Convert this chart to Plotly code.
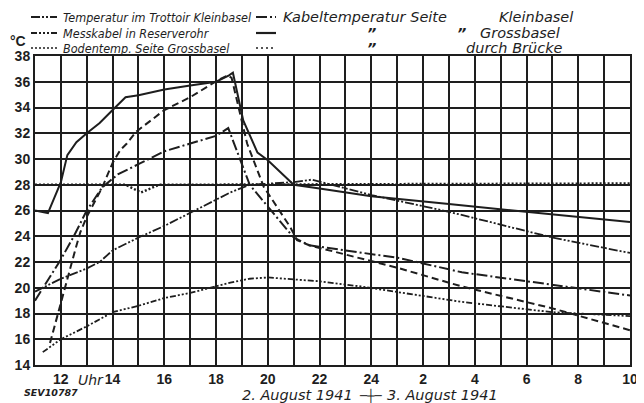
import plotly.graph_objects as go

# ---------------- data (hours: 11 = 11 Uhr on 2 Aug, 34 = 10 Uhr on 3 Aug) -------------
hour_ticks = list(range(11, 35))
hour_labels = ["", "12", "", "14", "", "16", "", "18", "", "20", "", "22", "", "24",
               "", "2", "", "4", "", "6", "", "8", "", "10"]
temp_ticks = list(range(14, 39, 2))

# Kabeltemperatur Seite Grossbasel (solid)
gross_x = [11, 11.5, 11.75, 12.0, 12.25, 12.6, 13.0, 13.5, 14.0, 14.5, 15.0, 16.0, 17.0,
           18.0, 18.5, 18.65, 19.05, 19.6, 20.0, 21.0, 22.0, 24.0, 27.0, 30.0, 34.0]
gross_y = [26.0, 25.8, 27.0, 28.2, 30.3, 31.3, 32.0, 32.8, 33.8, 34.8, 34.95, 35.4, 35.7,
           36.0, 36.5, 36.7, 33.0, 30.5, 29.9, 28.0, 27.7, 27.1, 26.5, 25.9, 25.1]

# Kabeltemperatur durch Brücke (dashed)
bruecke_x = [11.58, 12.0, 12.55, 12.75, 13.0, 13.6, 14.0, 14.3, 14.55, 14.9, 16.0, 17.0,
             18.05, 18.45, 18.6, 19.2, 19.84, 20.87, 21.13, 21.6, 23.6, 25.1, 27.5, 31.0, 34.0]
bruecke_y = [15.7, 18.9, 22.9, 24.3, 25.5, 27.8, 29.7, 30.7, 31.2, 32.1, 33.8, 34.8,
             36.1, 36.5, 36.3, 31.2, 27.85, 24.7, 23.7, 23.3, 22.3, 21.5, 20.1, 18.4, 16.7]

# Kabeltemperatur Seite Kleinbasel (dash-dot)
klein_x = [11.0, 12.0, 12.5, 13.0, 13.6, 14.2, 15.0, 16.0, 17.0, 18.0, 18.47, 19.3,
           20.0, 21.0, 21.6, 23.6, 25.1, 27.5, 34.0]
klein_y = [19.0, 22.2, 24.0, 26.0, 27.8, 28.8, 29.6, 30.6, 31.2, 31.8, 32.4, 28.0,
           26.3, 23.9, 23.3, 22.7, 22.3, 21.2, 19.4]

# Temperatur im Trottoir Kleinbasel
trottoir_x = [11.0, 12.0, 13.0, 13.5, 14.0, 15.0, 16.0, 17.0, 18.0, 18.55, 19.3, 20.0,
              21.0, 21.7, 23.0, 24.0, 27.0, 31.0, 34.0]
trottoir_y = [19.7, 20.7, 21.5, 22.0, 22.9, 23.9, 24.8, 25.8, 26.8, 27.4, 28.0, 28.1,
              28.2, 28.4, 27.7, 27.2, 25.9, 23.9, 22.7]

# Messkabel in Reserverohr
mess_x = [11.3, 12.0, 13.0, 14.0, 15.0, 16.0, 17.0, 18.0, 18.55, 19.3, 20.0, 22.0,
          23.6, 27.5, 31.0, 34.0]
mess_y = [15.0, 16.0, 17.0, 18.1, 18.6, 19.2, 19.6, 20.1, 20.4, 20.7, 20.8, 20.5,
          20.1, 18.9, 18.1, 17.8]

# Bodentemp. Seite Grossbasel (dotted)
boden_x = [11.0, 14.5, 15.1, 15.8, 34.0]
boden_y = [28.0, 28.0, 27.4, 28.0, 28.1]

INK = "#1e1e1e"
FONT_N = "DejaVu Sans Condensed, Liberation Sans Narrow, DejaVu Sans, sans-serif"
FONT_W = "DejaVu Sans, sans-serif"
FONT_NUM = "Liberation Sans, Arial, sans-serif"

DASH_TROTT = "9px,2px,2px,2px,2px,2px"
DASH_MESS = "6px,2px,2px,2px,2px,2px,2px,2px"
DASH_BODEN = "2px,2px"
DASH_KLEIN = "11px,3px,2px,3px"
DASH_BRUECKE = "7px,4px"

series = [
    (trottoir_x, trottoir_y, DASH_TROTT, 1.8),
    (mess_x, mess_y, DASH_MESS, 1.8),
    (boden_x, boden_y, DASH_BODEN, 2.4),
    (klein_x, klein_y, DASH_KLEIN, 2.0),
    (gross_x, gross_y, "solid", 2.0),
    (bruecke_x, bruecke_y, DASH_BRUECKE, 2.0),
]

fig = go.Figure()
for xs, ys, dash, w in series:
    fig.add_trace(go.Scatter(x=xs, y=ys, mode="lines",
                             line=dict(color=INK, width=w, dash=dash),
                             showlegend=False, hoverinfo="skip"))

# page has an 8px body margin; work in screenshot pixel coordinates
OFF = 8
SCR_W, SCR_H = 644, 403
X0, X1, Y0, Y1 = 35, 630, 56, 365          # plot area on screen
FIG_W, FIG_H = SCR_W - OFF, SCR_H - OFF
ML, MT = X0 - OFF, Y0 - OFF
MR = FIG_W - (X1 - OFF)
MB = FIG_H - (Y1 - OFF)


def px(x):
    return (x - X0) / (X1 - X0)


def py(y):
    return (Y1 - y) / (Y1 - Y0)


annotations = []
shapes = []


def text(x, y, s, size=13, anchor="left", italic=True, font=FONT_N, bold=False):
    t = s
    if bold:
        t = "<b>" + t + "</b>"
    if italic:
        t = "<i>" + t + "</i>"
    annotations.append(dict(x=px(x), y=py(y), xref="paper", yref="paper", text=t,
                            showarrow=False, xanchor=anchor, yanchor="middle",
                            font=dict(family=font, size=size, color=INK)))


def sample(x0, x1, y, dash, w=1.8):
    shapes.append(dict(type="line", xref="paper", yref="paper",
                       x0=px(x0), x1=px(x1), y0=py(y), y1=py(y),
                       line=dict(color=INK, width=w, dash=dash)))


# legend
LS = 12.5
sample(31, 57, 17, DASH_TROTT)
text(61, 17, "Temperatur im Trottoir Kleinbasel", size=LS)
sample(31, 57, 33, DASH_MESS)
text(61, 33, "Messkabel in Reserverohr", size=LS)
sample(31, 57, 48, DASH_BODEN, 1.6)
text(61, 48, "Bodentemp. Seite Grossbasel", size=LS)

RS = 14.5
sample(256, 276, 17, DASH_KLEIN)
text(281, 17, "Kabeltemperatur Seite", size=RS, font=FONT_W)
text(497, 17, "Kleinbasel", size=RS, font=FONT_W)
sample(256, 276, 33, "solid", 2.2)
text(371, 33, "\u201d", anchor="center", size=RS, font=FONT_W, bold=True)
text(461, 33, "\u201d", anchor="center", size=RS, font=FONT_W, bold=True)
text(478, 33, "Grossbasel", size=RS, font=FONT_W)
sample(256, 276, 48, "2px,3px", 1.6)
text(371, 48, "\u201d", anchor="center", size=RS, font=FONT_W, bold=True)
text(464, 48, "durch Brücke", size=RS, font=FONT_W)

# axis unit and extra labels
text(18, 41, "°C", size=14, anchor="center", italic=False, bold=True, font=FONT_NUM)
text(91, 380, "Uhr", size=14, anchor="center", font=FONT_W)
text(22, 392, "SEV10787", size=9.5, anchor="left", font=FONT_W, bold=True)
text(355, 395, "2. August 1941", size=14.5, anchor="right", font=FONT_W)
text(370, 395, "─┼─", size=12, anchor="center", italic=False, font=FONT_W)
text(385, 395, "3. August 1941", size=14.5, anchor="left", font=FONT_W)

fig.update_layout(
    width=FIG_W, height=FIG_H,
    margin=dict(l=ML, r=MR, t=MT, b=MB, autoexpand=False),
    paper_bgcolor="white", plot_bgcolor="white",
    annotations=annotations, shapes=shapes,
    xaxis=dict(range=[11, 34], tickmode="array", tickvals=hour_ticks, ticktext=hour_labels,
               showgrid=True, gridcolor=INK, gridwidth=1.5, zeroline=False,
               showline=True, linecolor=INK, linewidth=2, mirror=True, ticks="",
               automargin=False,
               tickfont=dict(family=FONT_NUM, size=14, color=INK, weight="bold")),
    yaxis=dict(range=[14, 38], tickmode="array", tickvals=temp_ticks,
               showgrid=True, gridcolor=INK, gridwidth=1.5, zeroline=False,
               showline=True, linecolor=INK, linewidth=2, mirror=True, ticks="",
               automargin=False,
               tickfont=dict(family=FONT_NUM, size=14, color=INK, weight="bold")),
)

fig.write_html("out.html")
